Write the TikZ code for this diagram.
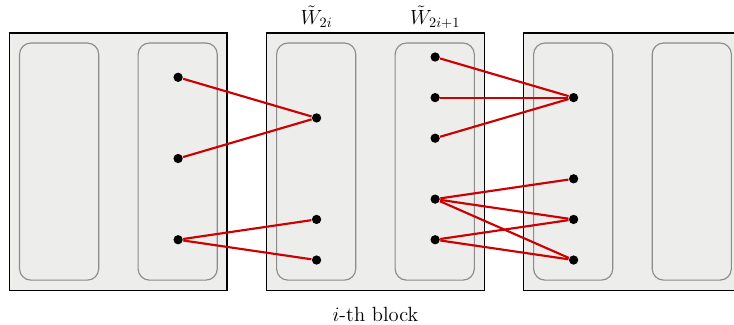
\documentclass[tikz,border=0pt]{standalone}
\usetikzlibrary{positioning}
\definecolor{cred}{HTML}{CC0000}
\definecolor{cfill}{HTML}{EDEDEC}
\definecolor{cgrey}{HTML}{8C8C8C}
\tikzset{
  every picture/.style={line width=0.8pt},
  block/.style={draw=black, fill=cfill, minimum width=5.35cm, minimum height=6.33cm, inner sep=0pt},
  column/.style={draw=cgrey, rounded corners=8pt, minimum width=1.95cm, minimum height=5.84cm, inner sep=0pt},
  neuron/.style={circle, fill=black, inner sep=0pt, minimum size=6.5pt},
  link/.style={draw=cred, line width=1.5pt},
  caption/.style={font=\Large, inner sep=1pt},
}

\begin{document}
\begin{tikzpicture}
  \useasboundingbox (-0.246, 1.404) rectangle (17.83, -6.576);
  \clip (-0.246, 1.404) rectangle (17.83, -6.576);
  % ---------- blocks ----------
  \foreach \i in {1,2,3} {
    \node[block] (b\i) at (2.67+6.33*\i-6.33, -2.575) {};
    \node[column] (col\i a) at ([xshift=-1.46cm]b\i.center) {};
    \node[column] (col\i b) at ([xshift=1.46cm]b\i.center) {};
  }
  % ---------- neurons ----------
  \foreach \y [count=\i] in {0.5, 2.5, 4.5} \node[neuron] (a\i) at (4.14, -\y) {};
  \foreach \y [count=\i] in {1.5, 4, 5} \node[neuron] (p\i) at (7.55, -\y) {};
  \foreach \y [count=\i] in {0, 1, 2, 3.5, 4.5} \node[neuron] (q\i) at (10.47, -\y) {};
  \foreach \y [count=\i] in {1, 3, 4, 5} \node[neuron] (r\i) at (13.88, -\y) {};
  % ---------- links ----------
  \foreach \s/\t in {a1/p1, a2/p1, a3/p2, a3/p3, q1/r1, q2/r1, q3/r1, q4/r2, q4/r3, q4/r4, q5/r3, q5/r4}
    \draw[link] (\s) -- (\t);
  % ---------- labels ----------
  \node[caption] (w2i) at (7.55, 0.985) {$\tilde{W}_{2i}$};
  \node[caption] (w2i1) at (10.47, 0.985) {$\tilde{W}_{2i+1}$};
  \node[caption] (blk) at (9.0, -6.33) {$i$-th block};
\end{tikzpicture}
\end{document}
